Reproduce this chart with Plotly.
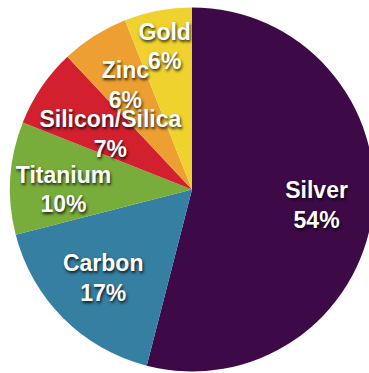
import plotly.graph_objects as go

labels = ["Silver", "Carbon", "Titanium", "Silicon/Silica", "Zinc", "Gold"]
values = [54, 17, 10, 7, 6, 6]
colors = ["#3d0a47", "#357fa2", "#79ad3b", "#d2202e", "#eda031", "#f0d22f"]

# label placement groups: (labels shown, relative pie size, hole)
label_groups = [
    (["Silver", "Carbon"], 1.0, 0.38),
    (["Titanium"], 0.93, 0.0),
    (["Silicon/Silica"], 0.66, 0.0),
    (["Zinc"], 0.81, 0.0),
    (["Gold"], 0.95, 0.0),
]

font = dict(family="Liberation Sans, Arial, sans-serif", size=23, color="white",
            weight="bold", shadow="1px 2px 3px rgba(0,0,0,0.8)")

fig = go.Figure()
fig.add_trace(go.Pie(
    labels=labels,
    values=values,
    sort=False,
    direction="clockwise",
    rotation=0,
    marker=dict(colors=colors, line=dict(width=0)),
    textinfo="none",
    hoverinfo="none",
    showlegend=False,
))

for shown, k, hole in label_groups:
    tmpl = ["%{label}<br>%{value}%" if lab in shown else "" for lab in labels]
    lo, hi = 0.5 - k / 2, 0.5 + k / 2
    fig.add_trace(go.Pie(
        labels=labels,
        values=values,
        sort=False,
        direction="clockwise",
        rotation=0,
        hole=hole,
        domain=dict(x=[lo, hi], y=[lo, hi]),
        marker=dict(colors=["rgba(0,0,0,0)"] * len(labels), line=dict(width=0)),
        texttemplate=tmpl,
        textposition="inside",
        insidetextorientation="horizontal",
        textfont=font,
        hoverinfo="none",
        showlegend=False,
    ))

fig.update_layout(
    width=375, height=373,
    margin=dict(l=10, r=1, t=7, b=1),
    paper_bgcolor="white",
    plot_bgcolor="white",
    uniformtext=dict(minsize=23, mode="show"),
)

fig.write_html("out.html", post_script="document.body.style.overflow='hidden';document.body.style.margin='0';")
